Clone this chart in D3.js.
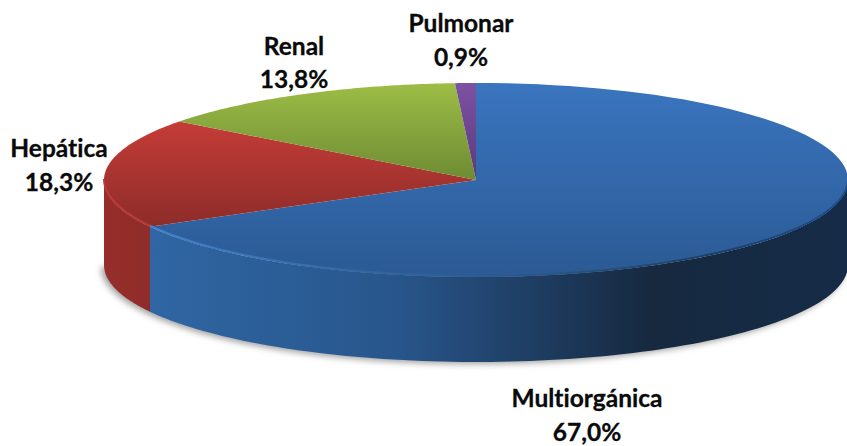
<!DOCTYPE html>
<html><head><meta charset="utf-8">
<style>html,body{margin:0;padding:0;background:#fff}svg{display:block}text{font-family:Lato,sans-serif;font-weight:700;font-size:24.5px;font-variant-ligatures:none;fill:#0a0a0a;stroke:#0a0a0a;stroke-width:.3px;text-anchor:middle}</style>
<script src="https://cdn.jsdelivr.net/npm/d3@7/dist/d3.min.js"></script>
</head><body><svg id="c" width="847" height="446"></svg>
<script>
const categories=["Multiorgánica","Hepática","Renal","Pulmonar"];
const values=[67.0,18.3,13.8,0.9];
const labels=["67,0%","18,3%","13,8%","0,9%"];
const topColors=[["#3a75bf","#2b5a94"],["#c63c38","#8c2c29"],["#9dbd46","#6d8a33"],["#7c52a3","#5a3a7c"]];
const sideStops=[[[0,"#2f66a3"],[.35,"#28568c"],[.72,"#16293f"],[1,"#152b47"]],[[0,"#962e2b"],[1,"#8f2c29"]]];
const labelPos=[[587,407,441],[59,157,191],[294,55,88],[461,32,66]];

const cx=476,cy=180,rx=372,ry=97,depth=85;
const svg=d3.select("#c");
const defs=svg.append("defs");
const pie=d3.pie().sort(null).value(d=>d)(values);
const xs=d3.scaleLinear().domain([-1,1]).range([cx-rx,cx+rx]);
const ys=d3.scaleLinear().domain([-1,1]).range([cy-ry,cy+ry]);
const px=a=>xs(Math.sin(a)),py=a=>ys(-Math.cos(a));

const blur=defs.append("filter").attr("id","sh").attr("x","-10%").attr("y","-20%").attr("width","120%").attr("height","140%");
blur.append("feGaussianBlur").attr("stdDeviation",3);
const rimBlur=defs.append("filter").attr("id","rb").attr("x","-5%").attr("y","-20%").attr("width","110%").attr("height","140%");
rimBlur.append("feGaussianBlur").attr("stdDeviation",.7);

topColors.forEach((c,i)=>{
  const g=defs.append("linearGradient").attr("id","t"+i).attr("gradientUnits","userSpaceOnUse")
    .attr("x1",0).attr("x2",0).attr("y1",i==1?120:83).attr("y2",i==0?277:(i==1?228:182));
  g.append("stop").attr("offset",0).attr("stop-color",c[0]);
  g.append("stop").attr("offset",1).attr("stop-color",c[1]);
});
sideStops.forEach((s,i)=>{
  const g=defs.append("linearGradient").attr("id","s"+i).attr("gradientUnits","userSpaceOnUse")
    .attr("x1",i==0?150:104).attr("x2",i==0?848:150).attr("y1",0).attr("y2",0);
  s.forEach(p=>g.append("stop").attr("offset",p[0]).attr("stop-color",p[1]));
});
const e=defs.append("linearGradient").attr("id","edge").attr("gradientUnits","userSpaceOnUse").attr("x1",150).attr("x2",848).attr("y1",0).attr("y2",0);
[[0,"#4282cc"],[.3,"#33679f"],[.55,"#2b5789"],[.8,"#1f3f63"],[1,"#1d4f90"]].forEach(p=>e.append("stop").attr("offset",p[0]).attr("stop-color",p[1]));

const line=d3.line().x(d=>d[0]).y(d=>d[1]);
const sample=(a0,a1,dy)=>d3.range(0,101).map(k=>{const a=a0+(a1-a0)*k/100;return [px(a),py(a)+dy]});

// soft shadow under the disc
svg.append("path").attr("filter","url(#sh)").attr("fill","#a0a0a0")
  .attr("d",line(sample(Math.PI/2,Math.PI*1.5,depth+2))+"Z").attr("transform","translate(-3,0)");

// front wall: only angles on the near half
const wall=(a0,a1,fill)=>svg.append("path").attr("fill",fill)
  .attr("d",line(sample(a0,a1,0).concat(sample(a1,a0,depth)))+"Z");
wall(Math.PI/2,pie[0].endAngle,"url(#s0)");
wall(pie[0].endAngle,Math.PI*1.5,"url(#s1)");

// top faces
pie.forEach((p,i)=>{
  svg.append("path").attr("fill",`url(#t${i})`)
    .attr("d",line([[cx,cy]].concat(sample(p.startAngle,p.endAngle,0)))+"Z");
});
// bevel highlights on the front rim
svg.append("path").attr("fill","none").attr("stroke","url(#edge)").attr("stroke-width",2).attr("filter","url(#rb)")
  .attr("d",line(sample(Math.PI/2,pie[0].endAngle,-1)));
svg.append("path").attr("fill","none").attr("stroke","#b93a36").attr("stroke-width",2).attr("filter","url(#rb)")
  .attr("d",line(sample(pie[0].endAngle,Math.PI*1.5,-1)));

// labels
categories.forEach((c,i)=>{
  const t=svg.append("text");
  t.append("tspan").attr("x",labelPos[i][0]).attr("y",labelPos[i][1]).text(c);
  t.append("tspan").attr("x",labelPos[i][0]).attr("y",labelPos[i][2]).text(labels[i]);
});
</script></body></html>
